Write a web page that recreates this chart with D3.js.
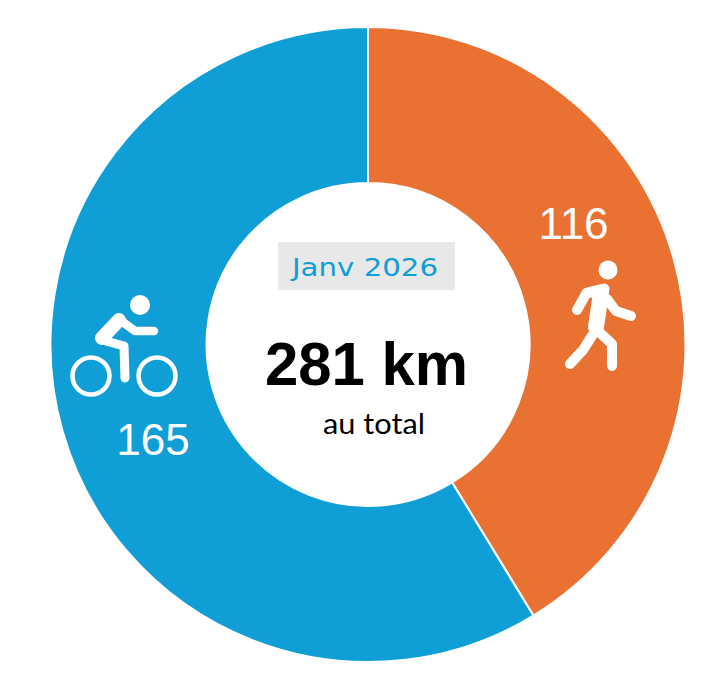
<!DOCTYPE html>
<html>
<head>
<meta charset="utf-8">
<script src="https://cdn.jsdelivr.net/npm/d3@7"></script>
<style>
html,body{margin:0;padding:0;background:#fff;}
svg{display:block;}
</style>
</head>
<body>
<svg id="chart" width="720" height="681"></svg>
<script>
const categories = ["Marche", "Vélo"];
const values = [116, 165];
const colors = ["#E97132", "#0F9ED5"];
const periodLabel = "Janv 2026";
const totalUnit = "km";
const totalCaption = "au total";

const svg = d3.select("#chart");
const cx = 368, cy = 344.5, rOut = 317.5, rIn = 161.5;
const g = svg.append("g").attr("transform", `translate(${cx},${cy})`);

const pie = d3.pie().sort(null).value(d => d.value);
const data = pie(categories.map((c, i) => ({ cat: c, value: values[i], color: colors[i] })));
const arc = d3.arc().innerRadius(rIn).outerRadius(rOut);

g.selectAll("path.slice").data(data).join("path")
  .attr("class", "slice")
  .attr("d", arc)
  .attr("fill", d => d.data.color)
  .attr("stroke", "#fff")
  .attr("stroke-width", 2);

// value labels
const labelPos = [[573.5, 239], [153, 455]];
g.selectAll("text.val").data(data).join("text")
  .attr("class", "val")
  .attr("x", (d, i) => labelPos[i][0] - cx)
  .attr("y", (d, i) => labelPos[i][1] - cy)
  .attr("text-anchor", "middle")
  .attr("font-family", "'Liberation Sans', Arial, sans-serif")
  .attr("font-size", 44)
  .attr("fill", "#fff")
  .text(d => d.data.value);

const line = d3.line();

// walk icon
const walk = svg.append("g").attr("fill", "none").attr("stroke", "#fff")
  .attr("stroke-width", 10).attr("stroke-linecap", "round").attr("stroke-linejoin", "round");
walk.append("circle").attr("cx", 608).attr("cy", 270).attr("r", 9.5).attr("fill", "#fff").attr("stroke", "none");
walk.append("path").attr("d", line([[587, 293], [604, 289]])).attr("stroke-width", 11);
walk.append("path").attr("d", line([[601, 293], [596, 327]])).attr("stroke-width", 16);
walk.append("path").attr("d", line([[586, 294], [577, 310]]));
walk.append("path").attr("d", line([[607, 299], [616, 311], [631, 316]]));
walk.append("path").attr("d", line([[595, 331], [583, 350], [570, 364]]));
walk.append("path").attr("d", line([[598, 331], [612, 344], [612, 366]]));

// bike icon
const bike = svg.append("g").attr("fill", "none").attr("stroke", "#fff")
  .attr("stroke-linecap", "round").attr("stroke-linejoin", "round");
bike.append("circle").attr("cx", 140).attr("cy", 305).attr("r", 10).attr("fill", "#fff").attr("stroke", "none");
bike.append("path").attr("d", line([[119, 320], [102, 338]])).attr("stroke-width", 14);
bike.append("path").attr("d", line([[120, 320], [135, 331], [154, 331]])).attr("stroke-width", 8.5);
bike.append("path").attr("d", line([[102, 340], [124, 346], [125, 378]])).attr("stroke-width", 9);
bike.append("circle").attr("cx", 91).attr("cy", 376).attr("r", 18.5).attr("stroke-width", 4.5);
bike.append("circle").attr("cx", 157).attr("cy", 376).attr("r", 18.5).attr("stroke-width", 4.5);

// center
const total = d3.sum(values);
svg.append("rect").attr("x", 278).attr("y", 242).attr("width", 177).attr("height", 48).attr("fill", "#E8E8E8");
svg.append("text").attr("x", 365).attr("y", 276).attr("text-anchor", "middle")
  .attr("font-family", "'Comic Sans MS', 'DejaVu Sans', sans-serif").attr("font-size", 25)
  .attr("fill", "#0F9ED5").attr("textLength", 146).attr("lengthAdjust", "spacingAndGlyphs")
  .text(periodLabel);
svg.append("text").attr("x", 366.5).attr("y", 385).attr("text-anchor", "middle")
  .attr("font-family", "'Liberation Sans', Arial, sans-serif").attr("font-weight", "bold").attr("font-size", 61)
  .attr("fill", "#000").attr("textLength", 203).attr("lengthAdjust", "spacingAndGlyphs")
  .text(`${total} ${totalUnit}`);
svg.append("text").attr("x", 374).attr("y", 434).attr("text-anchor", "middle")
  .attr("font-family", "Lato, 'Open Sans', sans-serif").attr("font-size", 28)
  .attr("fill", "#000").attr("textLength", 102).attr("lengthAdjust", "spacingAndGlyphs")
  .text(totalCaption);
</script>
</body>
</html>
